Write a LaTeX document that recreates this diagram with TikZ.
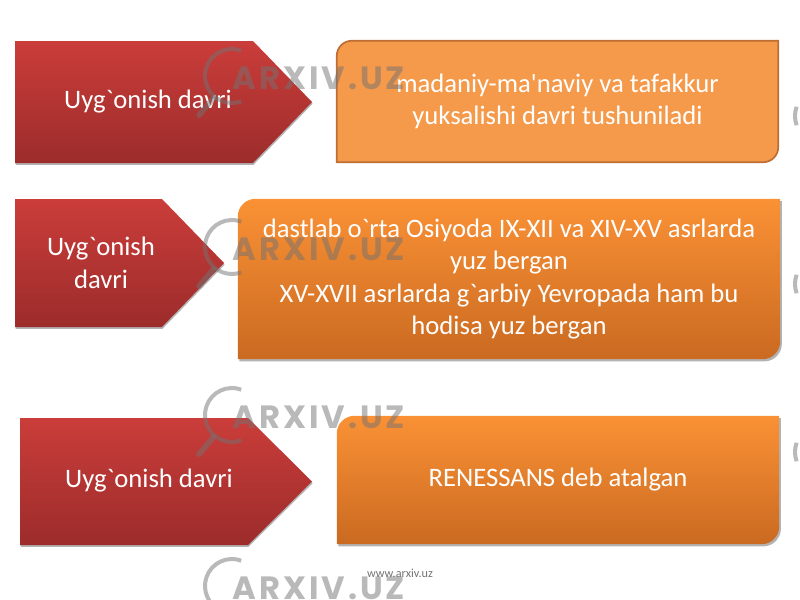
\documentclass[tikz,border=0pt]{standalone}
\usepackage{fontspec}
\newfontfamily\slide{Carlito}
\newfontfamily\markfont[LetterSpace=9]{Poppins}
\usetikzlibrary{backgrounds,shadows}
\definecolor{redtop}{HTML}{CA3D3A}
\definecolor{redbot}{HTML}{9C2C2B}
\definecolor{orgtop}{HTML}{FA9135}
\definecolor{orgbot}{HTML}{CA6A21}
\definecolor{orgflat}{HTML}{F5994A}
\definecolor{orgline}{HTML}{BD6E35}

\begin{document}
\begin{tikzpicture}[
  x=0.9pt, y=-0.9pt,
  every node/.style={inner sep=0pt, align=center, text=white, font=\slide\fontsize{24}{29.3}\selectfont},
  redshape/.style={top color=redtop, bottom color=redbot, drop shadow={shadow xshift=0.5pt, shadow yshift=-1.6pt, fill=black!50, opacity=0.6}},
  orangebox/.style={top color=orgtop, bottom color=orgbot, drop shadow={shadow xshift=1.5pt, shadow yshift=-2pt, fill=black!50, opacity=0.6}},
  flatbox/.style={fill=orgflat, draw=orgline, line width=1.5pt},
  wmark/.style={black!55, opacity=0.5}
]
\useasboundingbox (0,0) rectangle (800,600);

% red pentagons
\path[redshape] (15,41) -- (253,41) -- (312,102) -- (253,163) -- (15,163) -- cycle;
\path[redshape] (15,199) -- (162,199) -- (224,263) -- (162,327) -- (15,327) -- cycle;
\path[redshape] (20,418) -- (248,418) -- (312,481.5) -- (248,545) -- (20,545) -- cycle;

\node (uyg1) at (148,102) {Uyg`onish davri};
\node (uyg2) at (101,263) {Uyg`onish\\davri};
\node (uyg3) at (149,481) {Uyg`onish davri};

% text boxes
\node[minimum width=396.9pt, minimum height=108.9pt] (era) at (557.5,101.5) {madaniy-ma'naviy va tafakkur\\yuksalishi davri tushuniladi};
\node[minimum width=487.8pt, minimum height=144pt] (start) at (509,279) {dastlab o`rta Osiyoda IX-XII va XIV-XV asrlarda\\yuz bergan\\XV-XVII asrlarda g`arbiy Yevropada ham bu\\hodisa yuz bergan};
\node[minimum width=397.8pt, minimum height=115.2pt] (name) at (558,480) {RENESSANS deb atalgan};

\begin{scope}[on background layer]
  \path[flatbox] (era.south west) -- ([yshift=-13.5pt]era.north west) arc[start angle=180, end angle=90, radius=13.5pt] -- (era.north east) -- ([yshift=13.5pt]era.south east) arc[start angle=0, end angle=-90, radius=13.5pt] -- cycle;
  \foreach \b in {start,name}
    \path[orangebox] (\b.south west) -- ([yshift=-16pt]\b.north west) arc[start angle=180, end angle=90, radius=16pt] -- (\b.north east) -- ([yshift=16pt]\b.south east) arc[start angle=0, end angle=-90, radius=16pt] -- cycle;
\end{scope}

\node[font=\slide\fontsize{11}{13}\selectfont, text=black!55] (site) at (400,573) {www.arxiv.uz};

% watermarks
\begin{scope}[wmark]
  \clip (0,0) rectangle (800,600);
  \foreach \cx/\cy in {232/76, 232/247, 232/415, 232/586} {
    \draw[line width=3.6pt] ([shift={(70:24.3pt)}]\cx,\cy) arc[start angle=70, end angle=290, radius=24.3pt];
    \draw[line width=5pt, line cap=round] ([shift={(230:26pt)}]\cx,\cy) -- ([shift={(230:46pt)}]\cx,\cy);
    \node[text=black!55, font=\markfont\bfseries\fontsize{29}{30}\selectfont] (mark-\cy) at (\cx+87,\cy+2) {ARXIV.UZ};
  }
  \foreach \cy in {116, 284, 452}
    \draw[line width=3.6pt] ([shift={(160:24.3pt)}]822,\cy) arc[start angle=160, end angle=200, radius=24.3pt];
\end{scope}
\end{tikzpicture}
\end{document}
